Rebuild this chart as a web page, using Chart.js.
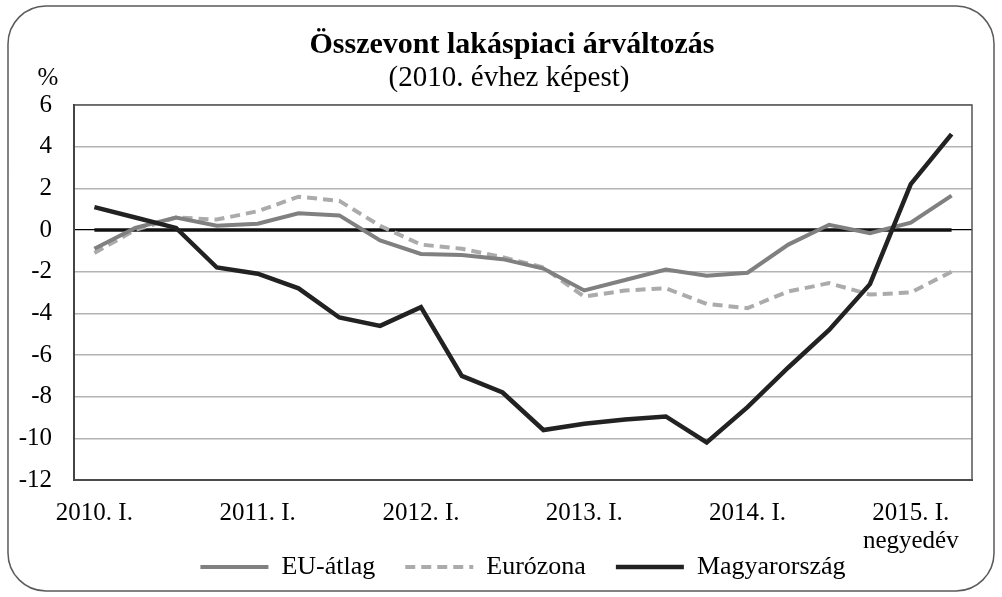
<!DOCTYPE html>
<html>
<head>
<meta charset="utf-8">
<script src="https://cdn.jsdelivr.net/npm/chart.js@4/dist/chart.umd.min.js"></script>
<style>
html,body{margin:0;padding:0;background:#fff;}
</style>
</head>
<body>
<canvas id="chart" width="1002" height="597"></canvas>
<script>
// quarterly categories, 2010 Q1 - 2015 Q2
const quarters = [
"2010. I.","2010. II.","2010. III.","2010. IV.",
"2011. I.","2011. II.","2011. III.","2011. IV.",
"2012. I.","2012. II.","2012. III.","2012. IV.",
"2013. I.","2013. II.","2013. III.","2013. IV.",
"2014. I.","2014. II.","2014. III.","2014. IV.",
"2015. I.","2015. II."
];

const euAtlag = [-0.9,0.1,0.6,0.2,0.3,0.8,0.7,-0.5,-1.15,-1.2,-1.4,-1.85,-2.9,-2.4,-1.9,-2.2,-2.05,-0.7,0.25,-0.15,0.35,1.65];
const eurozona = [-1.1,0.0,0.6,0.5,0.9,1.6,1.4,0.2,-0.7,-0.9,-1.3,-1.8,-3.2,-2.9,-2.8,-3.55,-3.75,-2.95,-2.55,-3.1,-3.0,-2.0];
const magyarorszag = [1.1,0.6,0.1,-1.8,-2.1,-2.8,-4.2,-4.6,-3.7,-7.0,-7.8,-9.6,-9.3,-9.1,-8.95,-10.2,-8.5,-6.6,-4.8,-2.6,2.2,4.6];
const zeroLine = [0,0,0,0,0,0,0,0,0,0,0,0,0,0,0,0,0,0,0,0,0,0];

const yMin = -12, yMax = 6, yStep = 2;
const axisNote = "negyedév";

const serif = "'Liberation Serif', 'Times New Roman', serif";

// frame, titles, plot border
const frame = {
  id:"frame",
  beforeDraw(chart){
    const c = chart.ctx;
    c.save();
    c.fillStyle="#fff";
    c.fillRect(0,0,chart.width,chart.height);
    c.strokeStyle="#5a5a5a";
    c.lineWidth=1.5;
    c.beginPath();
    c.roundRect(8,6,986,585,38);
    c.stroke();
    c.restore();
  },
  beforeDatasetsDraw(chart){
    const a = chart.chartArea, c = chart.ctx;
    c.save();
    c.strokeStyle="#555";
    c.lineWidth=1.5;
    c.strokeRect(a.left,a.top,a.right-a.left,a.bottom-a.top);
    c.restore();
  },
  afterDraw(chart){
    const c = chart.ctx;
    c.save();
    c.fillStyle="#000";
    c.textAlign="center";
    c.textBaseline="middle";
    c.font="bold 30px "+serif;
    c.fillText("Összevont lakáspiaci árváltozás",512,45);
    c.font="29px "+serif;
    c.fillText("(2010. évhez képest)",509,78);
    c.font="25px "+serif;
    c.fillText("%",48,78);
    // unit note under the last labelled quarter
    c.fillText(axisNote,chart.scales.x.getPixelForValue(20),541);
    c.restore();
  }
};

new Chart(document.getElementById("chart"),{
  type:"line",
  data:{
    labels:quarters,
    datasets:[
      {label:"EU-átlag",data:euAtlag,borderColor:"#808080",backgroundColor:"#808080",borderWidth:4,order:2},
      {label:"Eurózona",data:eurozona,borderColor:"#ababab",backgroundColor:"#ababab",borderWidth:4,borderDash:[10,6],order:3},
      {label:"Magyarország",data:magyarorszag,borderColor:"#222",backgroundColor:"#222",borderWidth:4.5,order:1},
      {label:"zero",data:zeroLine,borderColor:"#111",borderWidth:3.5,order:4}
    ]
  },
  options:{
    responsive:false,
    animation:false,
    layout:{padding:{top:105,right:30,left:0,bottom:7}},
    elements:{point:{radius:0},line:{tension:0,borderCapStyle:"butt"}},
    plugins:{
      title:{display:false},
      tooltip:{enabled:false},
      legend:{
        position:"bottom",
        fullSize:false,
        labels:{
          filter:item=>item.text!=="zero",
          sort:(a,b)=>a.datasetIndex-b.datasetIndex,
          generateLabels(chart){
            const items = Chart.defaults.plugins.legend.labels.generateLabels(chart);
            items.forEach(it=>{
              const ds = chart.data.datasets[it.datasetIndex];
              it.lineDash = ds.borderDash || [];
              it.lineWidth = ds.borderWidth;
              it.strokeStyle = ds.borderColor;
              it.pointStyle = "line";
            });
            return items;
          },
          usePointStyle:true,
          pointStyle:"line",
          pointStyleWidth:68,
          boxHeight:26,
          padding:30,
          color:"#000",
          font:{family:serif,size:26}
        }
      }
    },
    scales:{
      x:{
        offset:true,
        grid:{display:true,color:"transparent",drawTicks:false},
        border:{display:true,color:"#333",width:2},
        afterFit(s){s.height=44;},
        ticks:{
          autoSkip:false,maxRotation:0,padding:21,color:"#000",
          font:{family:serif,size:25,lineHeight:1},
          callback(v,i){
            return i%4===0 ? quarters[i] : "";
          }
        }
      },
      y:{
        min:yMin,max:yMax,
        afterFit(s){s.width=74;},
        grid:{
          drawTicks:false,
          color:ctx=>ctx.tick.value===0?"#000":"#b3b3b3",
          lineWidth:ctx=>ctx.tick.value===0?1.2:1.6
        },
        border:{display:true,color:"#111",width:2},
        ticks:{stepSize:yStep,padding:22,color:"#000",font:{family:serif,size:25}}
      }
    }
  },
  plugins:[frame]
});
</script>
</body>
</html>
